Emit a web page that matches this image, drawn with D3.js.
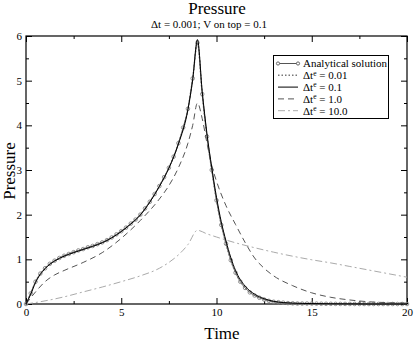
<!DOCTYPE html>
<html>
<head>
<meta charset="utf-8">
<script src="https://cdn.jsdelivr.net/npm/d3@7"></script>
<style>
  body { margin: 0; background: #fff; }
  svg { font-family: "Liberation Serif", "DejaVu Serif", serif; }
</style>
</head>
<body>
<div id="chart"></div>
<script>
const width = 414;
const height = 348;
const margin = { top: 36, right: 7, bottom: 44, left: 26 };

// Analytical solution, sampled every 0.25 time units
const analyticStep = 0.25;
const analyticValues = [
  0, 0.24, 0.50, 0.68, 0.80, 0.90, 0.97, 1.03, 1.08, 1.12, 1.16, 1.20, 1.23, 1.27, 1.30, 1.34,
  1.38, 1.43, 1.49, 1.56, 1.63, 1.71, 1.80, 1.89, 2.00, 2.14, 2.29, 2.46, 2.64, 2.84, 3.05, 3.30,
  3.60, 3.95, 4.37, 5.05, 5.85, 4.70, 3.75, 3.00, 2.32, 1.77, 1.35, 0.98, 0.70, 0.50, 0.36, 0.26,
  0.19, 0.14, 0.10, 0.07, 0.05, 0.04, 0.03, 0.02, 0.015, 0.01, 0.01, 0.01, 0.01, 0.008, 0.006, 0.005,
  0.004, 0.003, 0.002, 0.002, 0.001, 0.001, 0.001, 0, 0, 0, 0, 0, 0, 0, 0, 0, 0
];

// numerical runs
const fineTime = [0, 0.25, 0.5, 1, 1.5, 2, 2.5, 3, 3.5, 4, 4.5, 5, 5.5, 6, 6.5, 7, 7.5, 8, 8.5, 8.75, 9,
  9.25, 9.5, 9.75, 10, 10.25, 10.5, 10.75, 11, 11.5, 12, 12.5, 13, 14, 15, 16, 18, 20];
const dt001Values = [0, 0.24, 0.5, 0.8, 0.97, 1.08, 1.16, 1.23, 1.3, 1.38, 1.49, 1.63, 1.8, 2.0, 2.29, 2.64, 3.05, 3.6, 4.37, 5.05, 5.85,
  4.7, 3.75, 3.0, 2.32, 1.77, 1.35, 0.98, 0.7, 0.36, 0.19, 0.1, 0.05, 0.015, 0.01, 0.005, 0, 0];
const dt01Values = [0, 0.22, 0.48, 0.79, 0.96, 1.07, 1.15, 1.22, 1.29, 1.37, 1.48, 1.62, 1.79, 1.99, 2.28, 2.63, 3.04, 3.58, 4.35, 5.02, 5.92,
  4.76, 3.81, 3.06, 2.39, 1.84, 1.41, 1.04, 0.75, 0.4, 0.22, 0.12, 0.06, 0.02, 0.01, 0.005, 0, 0];

const dt1Time = [0, 0.5, 1, 1.5, 2, 3, 4, 5, 6, 7, 7.5, 8, 8.5, 8.75, 9, 9.25, 9.5, 9.75, 10, 10.5, 11, 11.5,
  12, 12.5, 13, 14, 15, 16, 17, 18, 19, 20];
const dt1Values = [0, 0.27, 0.5, 0.65, 0.75, 0.93, 1.15, 1.47, 1.87, 2.35, 2.65, 3.05, 3.6, 4.0, 4.5, 4.15, 3.6, 3.1, 2.75, 2.2, 1.78, 1.38,
  1.03, 0.8, 0.63, 0.41, 0.25, 0.15, 0.09, 0.05, 0.03, 0.02];

const dt10Time = [0, 1, 2, 3, 4, 5, 6, 7, 7.5, 8, 8.5, 9, 9.5, 10, 11, 12, 13, 14, 15, 16, 17, 18, 19, 20];
const dt10Values = [0, 0.07, 0.16, 0.27, 0.38, 0.5, 0.63, 0.8, 0.93, 1.1, 1.33, 1.65, 1.57, 1.5, 1.37, 1.26, 1.16, 1.07, 0.99, 0.92,
  0.84, 0.76, 0.68, 0.6];

const xTicks = [0, 5, 10, 15, 20];
const yTicks = [0, 1, 2, 3, 4, 5, 6];

const svg = d3.select("#chart")
  .append("svg")
  .attr("width", width)
  .attr("height", height);

const x = d3.scaleLinear()
  .domain([0, 20])
  .range([margin.left, width - margin.right]);

const y = d3.scaleLinear()
  .domain([0, 6])
  .range([height - margin.bottom, margin.top]);

const x0 = x(0), x1 = x(20), y0 = y(0), y1 = y(6);

// Title
svg.append("text")
  .attr("x", 217)
  .attr("y", 14)
  .attr("text-anchor", "middle")
  .style("font-size", "17px")
  .text("Pressure");

svg.append("text")
  .attr("x", 209)
  .attr("y", 28)
  .attr("text-anchor", "middle")
  .style("font-size", "11px")
  .text("Δt = 0.001; V on top = 0.1");

// axes (ticks inward, on all four sides)
function styleAxis(g) {
  g.select(".domain").remove();
  g.selectAll("line").attr("stroke", "#000");
  g.selectAll("text").style("font-size", "11px").style("font-family", "Liberation Serif, serif");
}

svg.append("g")
  .attr("transform", `translate(0,${y0})`)
  .call(d3.axisBottom(x).tickValues(xTicks).tickSize(-6).tickPadding(4).tickFormat(d3.format("d")))
  .call(styleAxis);
svg.append("g")
  .attr("transform", `translate(0,${y0})`)
  .call(d3.axisBottom(x).tickValues(d3.range(2.5, 20, 5)).tickSize(-3).tickFormat(""))
  .call(styleAxis);
svg.append("g")
  .attr("transform", `translate(0,${y1})`)
  .call(d3.axisTop(x).tickValues(xTicks).tickSize(-6).tickFormat(""))
  .call(styleAxis);
svg.append("g")
  .attr("transform", `translate(0,${y1})`)
  .call(d3.axisTop(x).tickValues(d3.range(2.5, 20, 5)).tickSize(-3).tickFormat(""))
  .call(styleAxis);

svg.append("g")
  .attr("transform", `translate(${x0},0)`)
  .call(d3.axisLeft(y).tickValues(yTicks).tickSize(-6).tickPadding(4).tickFormat(d3.format("d")))
  .call(styleAxis);
svg.append("g")
  .attr("transform", `translate(${x0},0)`)
  .call(d3.axisLeft(y).tickValues(d3.range(0.5, 6, 1)).tickSize(-3).tickFormat(""))
  .call(styleAxis);
svg.append("g")
  .attr("transform", `translate(${x1},0)`)
  .call(d3.axisRight(y).tickValues(yTicks).tickSize(-6).tickFormat(""))
  .call(styleAxis);
svg.append("g")
  .attr("transform", `translate(${x1},0)`)
  .call(d3.axisRight(y).tickValues(d3.range(0.5, 6, 1)).tickSize(-3).tickFormat(""))
  .call(styleAxis);

// frame
svg.append("rect")
  .attr("x", x0)
  .attr("y", y1)
  .attr("width", x1 - x0)
  .attr("height", y0 - y1)
  .attr("fill", "none")
  .attr("stroke", "#000")
  .attr("stroke-width", 1.2);

// axis labels
svg.append("text")
  .attr("x", 222)
  .attr("y", 339)
  .attr("text-anchor", "middle")
  .style("font-size", "17px")
  .text("Time");

svg.append("text")
  .attr("transform", "rotate(-90)")
  .attr("x", -171)
  .attr("y", 15)
  .attr("text-anchor", "middle")
  .style("font-size", "17px")
  .text("Pressure");

// series
const analytic = analyticValues.map((v, i) => ({ t: i * analyticStep, p: v }));
const zipped = (ts, vs) => ts.map((t, i) => ({ t: t, p: vs[i] }));

const line = d3.line()
  .x(d => x(d.t))
  .y(d => y(d.p))
  .curve(d3.curveMonotoneX);

const series = [
  { data: zipped(dt10Time, dt10Values), color: "#aaa", dash: "7,3,2,3", width: 1 },
  { data: zipped(dt1Time, dt1Values), color: "#555", dash: "6,4", width: 1 },
  { data: analytic, color: "#666", dash: null, width: 1 },
  { data: zipped(fineTime, dt001Values), color: "#777", dash: "1.5,2", width: 1.4 },
  { data: zipped(fineTime, dt01Values), color: "#000", dash: null, width: 1 }
];

const plot = svg.append("g");

plot.selectAll("circle.analytic")
  .data(analytic)
  .enter()
  .append("circle")
  .attr("class", "analytic")
  .attr("cx", d => x(d.t))
  .attr("cy", d => y(d.p))
  .attr("r", 1.8)
  .attr("fill", "none")
  .attr("stroke", "#888")
  .attr("stroke-width", 0.9);

plot.selectAll("path.series")
  .data(series)
  .enter()
  .append("path")
  .attr("class", "series")
  .attr("d", d => line(d.data))
  .attr("fill", "none")
  .attr("stroke", d => d.color)
  .attr("stroke-width", d => d.width)
  .attr("stroke-dasharray", d => d.dash);

// legend
const legendItems = [
  { label: "Analytical solution", sup: null, color: "#555", dash: null, marker: true },
  { label: "Δt", sup: "e", rest: " = 0.01", color: "#777", dash: "1.5,2", marker: false },
  { label: "Δt", sup: "e", rest: " = 0.1", color: "#000", dash: null, marker: false },
  { label: "Δt", sup: "e", rest: " = 1.0", color: "#555", dash: "6,4", marker: false },
  { label: "Δt", sup: "e", rest: " = 10.0", color: "#aaa", dash: "7,3,2,3", marker: false }
];

const legend = svg.append("g");
legend.append("rect")
  .attr("x", 273.5)
  .attr("y", 55.5)
  .attr("width", 115)
  .attr("height", 63)
  .attr("fill", "#fff")
  .attr("stroke", "#000")
  .attr("stroke-width", 1);

const rows = legend.selectAll("g.row")
  .data(legendItems)
  .enter()
  .append("g")
  .attr("class", "row")
  .attr("transform", (d, i) => `translate(0,${63.5 + i * 11.8})`);

rows.append("line")
  .attr("x1", 278)
  .attr("x2", 298)
  .attr("stroke", d => d.color)
  .attr("stroke-width", d => d.dash === "1.5,2" ? 1.4 : 1)
  .attr("stroke-dasharray", d => d.dash);

rows.filter(d => d.marker)
  .selectAll("circle")
  .data([278, 298])
  .enter()
  .append("circle")
  .attr("cx", d => d)
  .attr("r", 1.6)
  .attr("fill", "#fff")
  .attr("stroke", "#555")
  .attr("stroke-width", 0.9);

const labels = rows.append("text")
  .attr("x", 303)
  .attr("y", 3.8)
  .style("font-size", "11px");

labels.append("tspan").text(d => d.label);
labels.filter(d => d.sup)
  .append("tspan")
  .attr("dy", -3.5)
  .style("font-size", "7.5px")
  .text(d => d.sup);
labels.filter(d => d.sup)
  .append("tspan")
  .attr("dy", 3.5)
  .text(d => d.rest);
</script>
</body>
</html>
